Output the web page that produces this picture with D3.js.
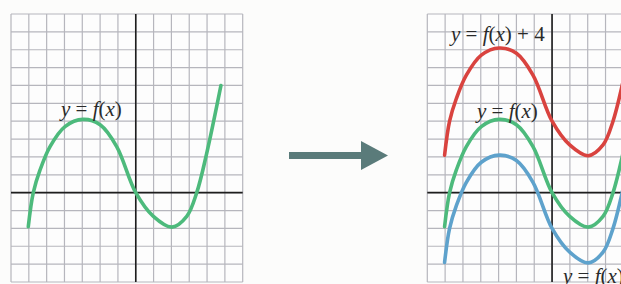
<!DOCTYPE html>
<html>
<head>
<meta charset="utf-8">
<script src="https://cdn.jsdelivr.net/npm/d3@7/dist/d3.min.js"></script>
<style>
  html, body { margin: 0; padding: 0; background: #fcfcfb; }
  svg { display: block; }
  text { font-family: "Liberation Serif", "DejaVu Serif", serif; fill: #2a2a2a; }
</style>
</head>
<body>
<svg id="chart" width="621" height="284"></svg>
<script>
// ---- data ----
const xs      = [-6.03, -5.75, -5.37, -4.81, -3.97, -2.96, -2.0, -1.07, 0, 0.99, 2.03, 2.86, 3.42, 3.98, 4.78];
const fVals   = [-1.9, 0, 1.27, 2.58, 3.7, 4.1, 3.8, 2.58, 0, -1.33, -1.93, -1.33, 0, 2.2, 6.0];
const fPlus4  = [2.1, 4, 5.27, 6.58, 7.7, 8.1, 7.8, 6.58, 4, 2.67, 2.07, 2.67, 4, 6.2, 10.0];
const fMinus2 = [-3.9, -2, -0.73, 0.58, 1.7, 2.1, 1.8, 0.58, -2, -3.33, -3.93, -3.33, -2, 0.2, 4.0];
const gridXs  = [-7, -6, -5, -4, -3, -2, -1, 0, 1, 2, 3, 4, 5, 6];
const gridYs  = [-5, -4, -3, -2, -1, 0, 1, 2, 3, 4, 5, 6, 7, 8, 9, 10];

const svg = d3.select("#chart");

function panel(x0, x1, y0, y1) {
  const x = d3.scaleLinear().domain([-7, 6]).range([x0, x1]);
  const y = d3.scaleLinear().domain([-5, 10]).range([y1, y0]);
  const g = svg.append("g");
  g.append("rect").attr("x", x0).attr("y", y0).attr("width", x1 - x0).attr("height", y1 - y0)
    .attr("fill", "#fdfdfd");
  g.selectAll(".vx").data(gridXs).join("line")
    .attr("x1", d => x(d)).attr("x2", d => x(d)).attr("y1", y0).attr("y2", y1)
    .attr("stroke", "#b6b6bd").attr("stroke-width", 1.2);
  g.selectAll(".hy").data(gridYs).join("line")
    .attr("y1", d => y(d)).attr("y2", d => y(d)).attr("x1", x0).attr("x2", x1)
    .attr("stroke", "#b6b6bd").attr("stroke-width", 1.2);
  // axes
  g.append("line").attr("x1", x(0)).attr("x2", x(0)).attr("y1", y0).attr("y2", y1)
    .attr("stroke", "#1e1e1e").attr("stroke-width", 1.6);
  g.append("line").attr("x1", x0).attr("x2", x1).attr("y1", y(0)).attr("y2", y(0))
    .attr("stroke", "#1e1e1e").attr("stroke-width", 1.6);
  return {g, x, y};
}

function curve(p, vals, color) {
  const line = d3.line().x((d, i) => p.x(xs[i])).y(d => p.y(d)).curve(d3.curveCatmullRom.alpha(0.5));
  p.g.append("path").attr("d", line(vals)).attr("fill", "none")
    .attr("stroke", color).attr("stroke-width", 3.6).attr("stroke-linecap", "round");
}

function label(p, px, py, suffix) {
  const t = p.g.append("text").attr("x", px).attr("y", py).attr("font-size", 21);
  t.append("tspan").attr("font-style", "italic").text("y");
  t.append("tspan").text(" = ");
  t.append("tspan").attr("font-style", "italic").text("f");
  t.append("tspan").text("(");
  t.append("tspan").attr("font-style", "italic").text("x");
  t.append("tspan").text(")" + suffix);
}

const green = "#4dba7c", red = "#d9433f", blue = "#5ea2cc";

// left panel
const L = panel(11, 242.7, 14, 282);
curve(L, fVals, green);
label(L, 61, 116, "");

// right panel
const R = panel(427.3, 659, 14, 282);
curve(R, fPlus4, red);
curve(R, fVals, green);
curve(R, fMinus2, blue);
label(R, 451, 41, " + 4");
label(R, 477, 118, "");
label(R, 563, 283, " \u2212 2");

// arrow
const arrowPts = [[289, 152], [361, 152], [361, 141], [388, 155.5], [361, 170], [361, 159], [289, 159]];
svg.append("path").attr("d", d3.line()(arrowPts) + "Z").attr("fill", "#5a7b7a");
</script>
</body>
</html>
